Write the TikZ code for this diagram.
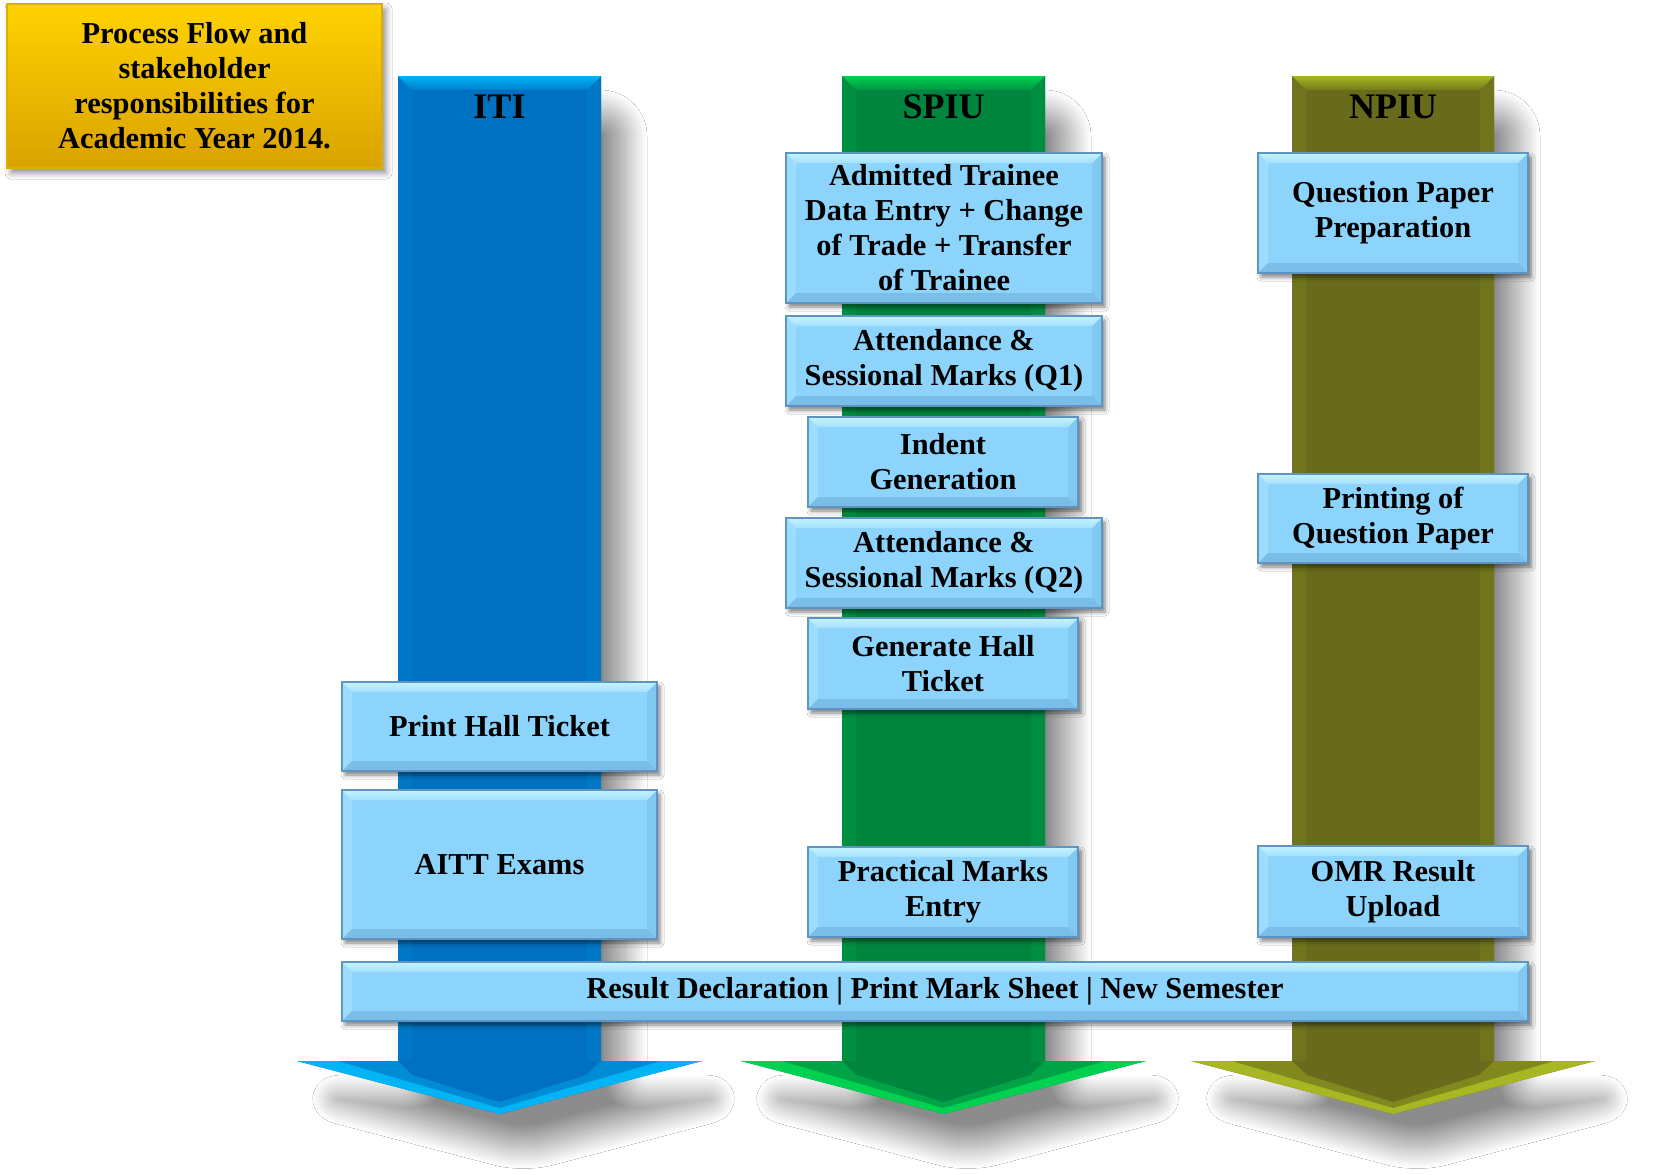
\documentclass[tikz,border=0pt]{standalone}
\usepackage{fontspec}
\setmainfont{Liberation Serif}
\usetikzlibrary{shadows.blur}
\definecolor{itimain}{HTML}{0070C0}
\definecolor{itilight}{HTML}{00B4F5}
\definecolor{spiumain}{HTML}{00853E}
\definecolor{spiulight}{HTML}{00D150}
\definecolor{npiumain}{HTML}{686B1C}
\definecolor{npiulight}{HTML}{A7B622}
\definecolor{boxfill}{HTML}{8DD4FC}
\definecolor{boxtop}{HTML}{C4F3FF}
\definecolor{boxbot}{HTML}{7ABDE8}
\definecolor{boxleft}{HTML}{9CDDFF}
\definecolor{boxright}{HTML}{82C9F2}
\definecolor{boxborder}{HTML}{5F93C0}
\definecolor{goldtop}{HTML}{FFD300}
\definecolor{goldbot}{HTML}{D9A200}
\newcommand\colarrow[4]{%
  \pgfmathsetmacro\colmid{(#1+#2)/2}
  \fill[#3, blur shadow={shadow xshift=12pt, shadow yshift=-18pt, shadow blur radius=11pt, shadow blur steps=48, shadow blur extra rounding=12pt, shadow opacity=45}]
    (#1,76) -- (#2,76) -- (#2,1061) -- ({#2+101},1061) -- (\colmid,1114) -- ({#1-101},1061) -- (#1,1061) -- cycle;
  \fill[#3!88!#4] (#1,76) -- ({#1+14},90) -- ({#1+14},1061) -- (#1,1061) -- cycle;
  \fill[#3!88!#4] (#2,76) -- ({#2-14},90) -- ({#2-14},1061) -- (#2,1061) -- cycle;
  \shade[top color=#4, bottom color=#3!80!#4] (#1,76) -- (#2,76) -- ({#2-14},90) -- ({#1+14},90) -- cycle;
  \fill[#4] ({#1-101},1061) -- ({#2+101},1061) -- (\colmid,1114) -- cycle;
  \fill[#3!60!#4] ({#1-60},1061) -- ({#2+60},1061) -- (\colmid,1108) -- cycle;
  \fill[#3] (#1,1061) -- (#2,1061) -- ({#2-15},1075) -- (\colmid,1102) -- ({#1+15},1075) -- cycle;
}
\newcommand\pbox[6]{%
  \node[procbox, minimum width={(#4-#2)*0.5pt}, minimum height={(#5-#3)*0.5pt}] (#1) at ({(#2+#4)/2},{(#3+#5)/2}) {#6};}
\tikzset{
  procbox/.style={draw=boxborder, line width=0.6pt, fill=boxfill, align=center, inner sep=0pt,
    font=\bfseries\fontsize{15.2}{17.5}\selectfont,
    blur shadow={shadow xshift=1.5pt, shadow yshift=-2pt, shadow blur radius=2pt, shadow opacity=50},
    path picture={
      \path (path picture bounding box.north west) coordinate (ppa)
            (path picture bounding box.north east) coordinate (ppb)
            (path picture bounding box.south east) coordinate (ppc)
            (path picture bounding box.south west) coordinate (ppd);
      \fill[boxleft] (ppa) -- ([shift={(5pt,-5pt)}]ppa) -- ([shift={(5pt,5pt)}]ppd) -- (ppd) -- cycle;
      \fill[boxright] (ppb) -- ([shift={(-5pt,-5pt)}]ppb) -- ([shift={(-5pt,5pt)}]ppc) -- (ppc) -- cycle;
      \fill[boxbot] (ppd) -- (ppc) -- ([shift={(-5pt,5pt)}]ppc) -- ([shift={(5pt,5pt)}]ppd) -- cycle;
      \shade[top color=boxtop, bottom color=boxfill!60!boxtop] (ppa) -- (ppb) -- ([shift={(-5pt,-5pt)}]ppb) -- ([shift={(5pt,-5pt)}]ppa) -- cycle;
    }},
  hdr/.style={font=\bfseries\fontsize{18}{20}\selectfont, inner sep=0pt},
  titlebox/.style={draw=goldbot!80!goldtop, line width=0.6pt, top color=goldtop, bottom color=goldbot,
    align=center, inner sep=0pt, font=\bfseries\fontsize{15.2}{17.5}\selectfont,
    blur shadow={shadow xshift=2pt, shadow yshift=-2.5pt, shadow blur radius=3pt, shadow opacity=45}}
}
\begin{document}
\begin{tikzpicture}[x=0.5pt, y=-0.5pt]
\useasboundingbox (0,0) rectangle (1655,1174);
\fill[white] (0,0) rectangle (1655,1174);
% columns
\colarrow{398}{601}{itimain}{itilight}
\colarrow{842}{1045}{spiumain}{spiulight}
\colarrow{1292}{1494}{npiumain}{npiulight}
% headers
\node[hdr] (iti) at (499.5,107) {ITI};
\node[hdr] (spiu) at (943.5,107) {SPIU};
\node[hdr] (npiu) at (1393,107) {NPIU};
% title
\node[titlebox, minimum width={(382-7)*0.5pt}, minimum height={(168-4)*0.5pt}] (title) at (194.5,86)
  {Process Flow and\\stakeholder\\responsibilities for\\Academic Year 2014.};
% ITI boxes
\pbox{printhall}{342}{682}{657}{771}{Print Hall Ticket}
\pbox{aitt}{342}{790}{657}{939}{AITT Exams}
% SPIU boxes
\pbox{admit}{786}{153}{1102}{303}{Admitted Trainee\\Data Entry + Change\\of Trade + Transfer\\of Trainee}
\pbox{att1}{786}{316}{1102}{406}{Attendance \&\\Sessional Marks (Q1)}
\pbox{indent}{808}{417}{1078}{507}{Indent\\Generation}
\pbox{att2}{786}{518}{1102}{608}{Attendance \&\\Sessional Marks (Q2)}
\pbox{genhall}{808}{618}{1078}{709}{Generate Hall\\Ticket}
\pbox{practical}{808}{847}{1078}{937}{Practical Marks\\Entry}
% NPIU boxes
\pbox{qpp}{1258}{153}{1528}{273}{Question Paper\\Preparation}
\pbox{printqp}{1258}{474}{1528}{563}{Printing of\\Question Paper}
\pbox{omr}{1258}{846}{1528}{937}{OMR Result\\Upload}
% result bar
\pbox{result}{342}{962}{1528}{1021}{Result Declaration | Print Mark Sheet | New Semester}
\end{tikzpicture}
\end{document}
